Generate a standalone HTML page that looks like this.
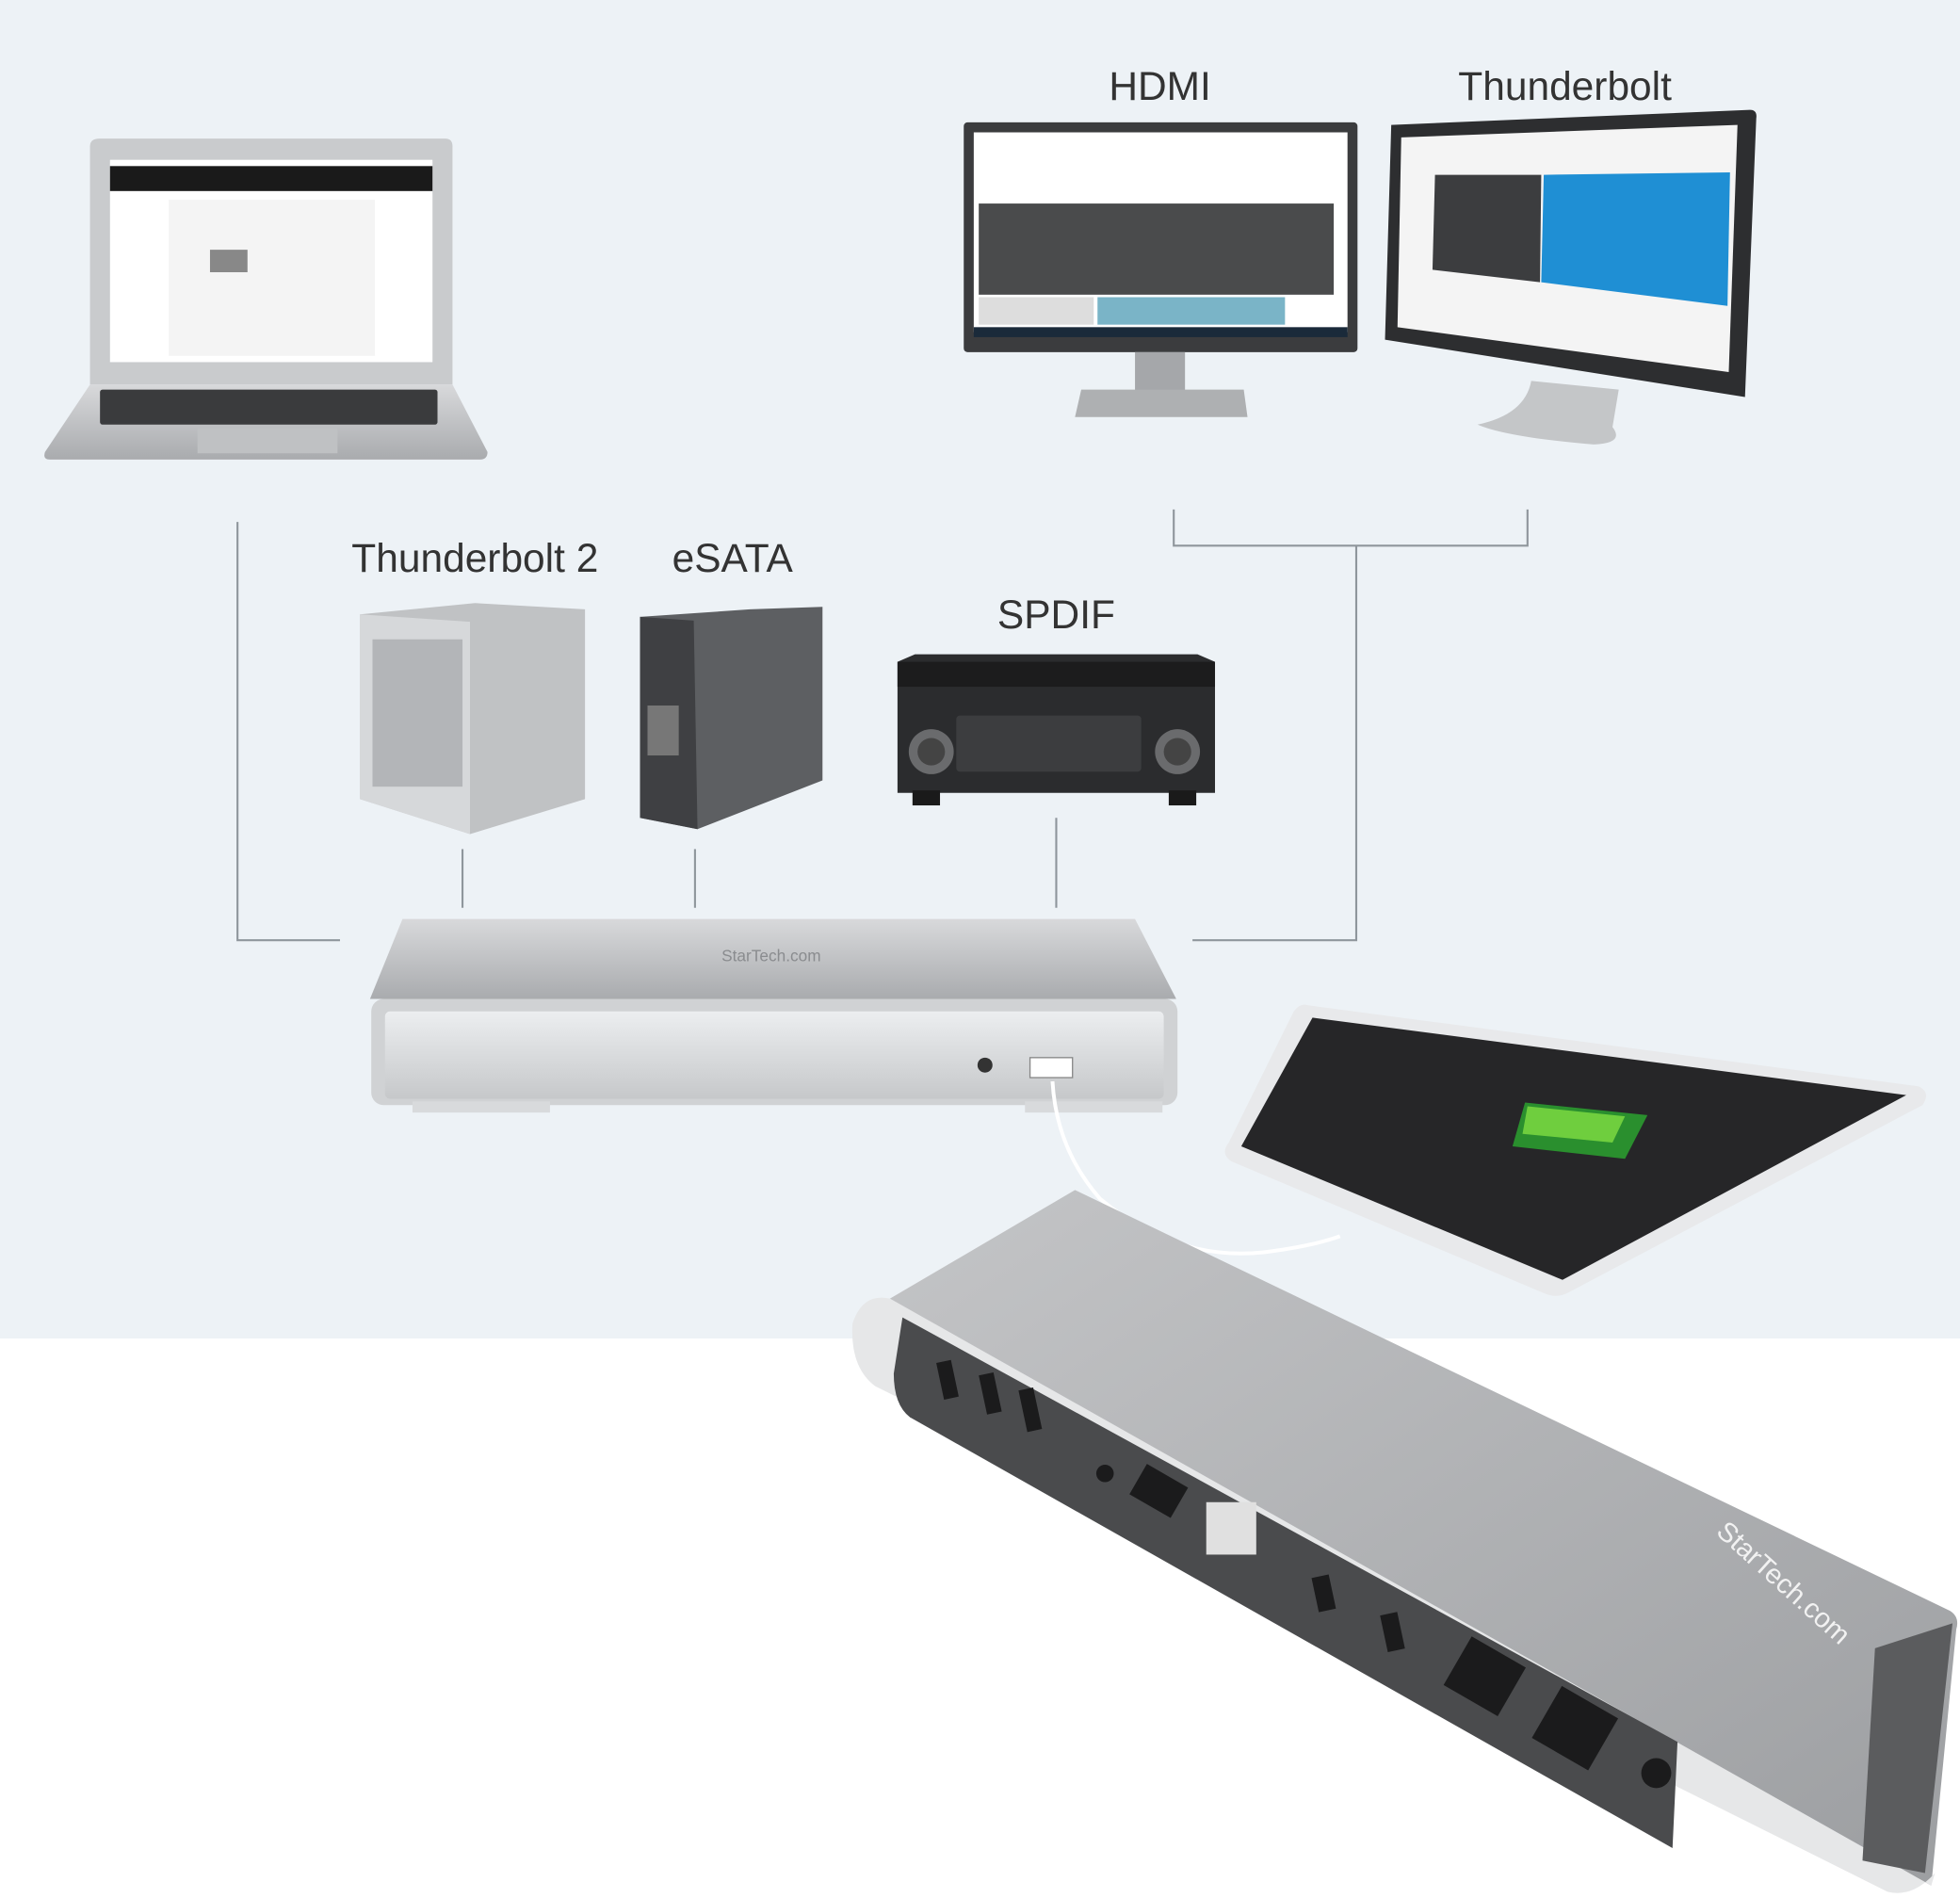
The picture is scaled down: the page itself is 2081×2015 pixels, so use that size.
<!DOCTYPE html>
<html><head><meta charset="utf-8"><style>
html,body{margin:0;padding:0;background:#fff}
svg{display:block}
text{font-family:"Liberation Sans",sans-serif}
</style></head><body>
<svg width="2081" height="2015" viewBox="0 0 1568 1520" preserveAspectRatio="none" xmlns="http://www.w3.org/2000/svg">
<defs>
<linearGradient id="sil" x1="0" y1="0" x2="0" y2="1"><stop offset="0" stop-color="#d8d9db"/><stop offset="1" stop-color="#a9abae"/></linearGradient>
<linearGradient id="dock" x1="0" y1="0" x2="1" y2="1"><stop offset="0" stop-color="#c4c5c7"/><stop offset="1" stop-color="#9c9ea1"/></linearGradient>
<linearGradient id="front" x1="0" y1="0" x2="0" y2="1"><stop offset="0" stop-color="#eceef0"/><stop offset="1" stop-color="#c6c8ca"/></linearGradient>
</defs>
<rect x="0" y="0" width="1568" height="1072" fill="#edf2f6"/>
<rect x="0" y="1072" width="1568" height="448" fill="#fff"/>

<g stroke="#8f969c" stroke-width="1.6" fill="none">
<polyline points="190,418 190,753 272,753"/>
<polyline points="939,408 939,437 1222,437 1222,408"/>
<polyline points="1085,437 1085,753 954,753"/>
<line x1="370" y1="680" x2="370" y2="727"/>
<line x1="556" y1="680" x2="556" y2="727"/>
<line x1="845" y1="655" x2="845" y2="727"/>
</g>

<g fill="#333" font-size="32">
<text x="928" y="80" text-anchor="middle">HDMI</text>
<text x="1252" y="80" text-anchor="middle">Thunderbolt</text>
<text x="380" y="458" text-anchor="middle">Thunderbolt 2</text>
<text x="586" y="458" text-anchor="middle">eSATA</text>
<text x="845" y="503" text-anchor="middle">SPDIF</text>
</g>

<!-- laptop -->
<path d="M80,111 H356 Q362,111 362,117 V308 H72 V117 Q72,111 80,111Z" fill="#c9cbcd"/>
<rect x="88" y="128" width="258" height="162" fill="#fff"/>
<rect x="88" y="133" width="258" height="20" fill="#1a1a1a"/>
<rect x="135" y="160" width="165" height="125" fill="#f4f4f4"/>
<rect x="168" y="200" width="30" height="18" fill="#888"/>
<path d="M72,308 H362 L390,362 Q390,368 384,368 H40 Q34,368 36,362Z" fill="url(#sil)"/>
<rect x="80" y="312" width="270" height="28" fill="#3a3b3d" rx="2"/>
<rect x="158" y="343" width="112" height="20" fill="#bfc1c3"/>

<!-- HDMI monitor -->
<rect x="771" y="98" width="315" height="184" fill="#3b3c3e" rx="3"/>
<rect x="779" y="106" width="299" height="160" fill="#fff"/>
<rect x="783" y="163" width="284" height="73" fill="#4a4b4c"/>
<rect x="878" y="238" width="150" height="22" fill="#7ab4c7"/>
<rect x="783" y="238" width="92" height="22" fill="#ddd"/>
<rect x="779" y="262" width="299" height="8" fill="#1a2a3a"/>
<rect x="908" y="282" width="40" height="40" fill="#a5a7aa"/>
<path d="M865,312 H995 L998,334 H860Z" fill="#aeb0b2"/>

<!-- Thunderbolt monitor -->
<path d="M1113,100 L1400,88 Q1406,88 1405,95 L1396,318 L1108,272Z" fill="#2d2e30"/>
<path d="M1121,110 L1390,100 L1383,298 L1118,262Z" fill="#f4f4f4"/>
<path d="M1235,140 L1384,138 L1382,245 L1233,226Z" fill="#1f8fd4"/>
<path d="M1148,140 L1233,140 L1232,226 L1146,216Z" fill="#3c3d3f"/>
<path d="M1225,305 L1295,312 L1290,342 Q1300,355 1275,356 Q1205,350 1182,340 Q1220,332 1225,305Z" fill="#c4c6c8"/>

<!-- TB2 storage -->
<path d="M288,492 L380,483 L468,488 L468,640 L376,668 L288,640Z" fill="#c0c2c4"/>
<path d="M288,492 L376,498 L376,668 L288,640Z" fill="#d6d8da"/>
<rect x="298" y="512" width="72" height="118" fill="#b3b5b8"/>
<!-- eSATA -->
<path d="M512,494 L600,488 L658,486 L658,625 L558,664 L512,655Z" fill="#5d5f62"/>
<path d="M512,494 L555,497 L558,664 L512,655Z" fill="#3f4043"/>
<rect x="518" y="565" width="25" height="40" fill="#777"/>
<!-- receiver -->
<path d="M718,530 L732,524 H958 L972,530 V635 H718Z" fill="#2b2c2e"/>
<rect x="718" y="530" width="254" height="20" fill="#1c1c1d"/>
<rect x="765" y="573" width="148" height="45" fill="#3c3d3f" rx="3"/>
<circle cx="745" cy="602" r="18" fill="#6a6b6d"/><circle cx="745" cy="602" r="11" fill="#444"/>
<circle cx="942" cy="602" r="18" fill="#6a6b6d"/><circle cx="942" cy="602" r="11" fill="#444"/>
<rect x="730" y="633" width="22" height="12" fill="#1a1a1a"/><rect x="935" y="633" width="22" height="12" fill="#1a1a1a"/>

<!-- dock front view -->
<path d="M322,736 H908 L941,800 H296Z" fill="url(#sil)"/>
<rect x="297" y="800" width="645" height="85" rx="10" fill="#d0d2d4"/>
<rect x="308" y="810" width="623" height="70" rx="4" fill="url(#front)"/>
<text x="617" y="770" font-size="13" fill="#8a8c8f" text-anchor="middle">StarTech.com</text>
<circle cx="788" cy="853" r="6" fill="#333"/>
<rect x="824" y="847" width="34" height="16" fill="#fff" stroke="#888"/>
<rect x="330" y="882" width="110" height="9" fill="#d8dadc"/><rect x="820" y="882" width="110" height="9" fill="#d8dadc"/>

<path d="M842,866 Q845,920 880,960 Q940,1010 1010,1003 Q1050,998 1072,990" stroke="#fff" stroke-width="3" fill="none"/>

<!-- tablet -->
<path d="M1046,805 L1535,870 Q1545,875 1538,885 L1255,1035 Q1246,1040 1236,1036 L985,930 Q976,924 983,915 L1035,810 Q1040,803 1046,805Z" fill="#e8e9eb"/>
<path d="M1050,815 L1525,877 L1250,1025 L993,918Z" fill="#262628"/>
<path d="M1220,883 L1318,893 L1300,928 L1210,918Z" fill="#2a8f2e"/>
<path d="M1222,886 L1300,894 L1290,915 L1218,908Z" fill="#6fce3e"/>

<!-- big dock -->
<path d="M860,953 L1560,1290 Q1568,1295 1565,1305 L1545,1510 L720,1060 Q705,1050 712,1040 Z" fill="url(#dock)"/>
<path d="M712,1040 L1545,1510 L1548,1500 Q1530,1520 1510,1515 L700,1110 Q680,1095 682,1060 Q690,1035 712,1040Z" fill="#e6e7e8"/>
<path d="M722,1055 L1342,1395 L1338,1480 L728,1135 Q715,1125 715,1100 Z" fill="#4a4b4d"/>
<path d="M1500,1320 L1562,1300 L1540,1500 L1490,1490 Z" fill="#5b5c5e"/>
<text x="1372" y="1228" font-size="22" fill="#f2f2f2" transform="rotate(42 1372 1228)">StarTech.com</text>
<g fill="#1b1b1c">
<rect x="752" y="1090" width="12" height="30" transform="rotate(-12 758 1105)"/>
<rect x="786" y="1100" width="12" height="32" transform="rotate(-12 792 1115)"/>
<rect x="818" y="1112" width="12" height="34" transform="rotate(-12 824 1128)"/>
<rect x="908" y="1180" width="38" height="28" transform="rotate(30 927 1194)"/>
<rect x="965" y="1203" width="40" height="42" fill="#e0e0e0"/>
<rect x="1052" y="1262" width="14" height="28" transform="rotate(-12 1059 1276)"/>
<rect x="1107" y="1292" width="14" height="30" transform="rotate(-12 1114 1307)"/>
<rect x="1163" y="1320" width="50" height="45" transform="rotate(30 1188 1342)"/>
<rect x="1234" y="1360" width="52" height="48" transform="rotate(30 1260 1384)"/>
<circle cx="1325" cy="1420" r="12"/>
<circle cx="884" cy="1180" r="7"/>
</g>
</svg>
</body></html>
